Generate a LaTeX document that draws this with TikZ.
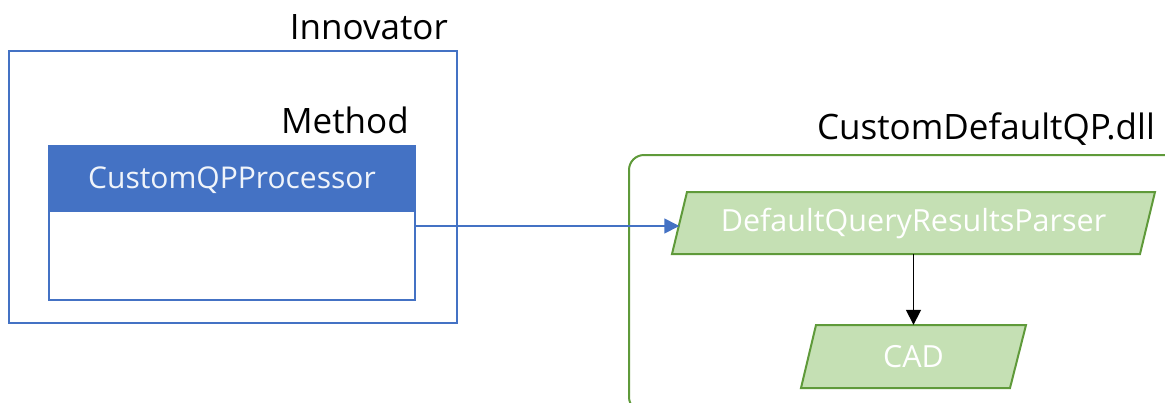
\documentclass[tikz,border=0pt]{standalone}
\usepackage{fontspec}
\setmainfont{Open Sans}
\usetikzlibrary{arrows.meta,calc}
\definecolor{ublue}{HTML}{4472C4}
\definecolor{ugreen}{HTML}{5F9A3A}
\definecolor{ufill}{HTML}{C5E0B4}
\tikzset{
  lbl/.style={font=\fontsize{35}{38}\selectfont, text=black, inner sep=0pt},
  bluebox/.style={draw=ublue, line width=2pt, inner sep=0pt},
  hdr/.style={draw=ublue, fill=ublue, line width=2pt, inner sep=0pt},
  para/.style={inner sep=0pt, text=white, font=\fontsize{30.5}{33}\selectfont},
  paradraw/.style={draw=ugreen, fill=ufill, line width=2pt, line join=miter},
  conn/.style={line width=1.7pt},
}
\begin{document}
\begin{tikzpicture}[x=1pt,y=-1pt]
\clip (0,0) rectangle (1165,402);
\useasboundingbox (0,0) rectangle (1165,402);
% Innovator
\node[bluebox, minimum width=448pt, minimum height=272pt] (innov) at (233,187) {};
\node[lbl, anchor=base east] (innovlbl) at (448,39) {Innovator};
\node[lbl, anchor=base east] (methodlbl) at (409,133) {Method};
\node[hdr, minimum width=366pt, minimum height=65pt] (cqp) at (232,178.5) {};
\node[bluebox, minimum width=366pt, minimum height=89pt] (cqpbody) at (232,255.5) {};
\node[inner sep=0pt, text=white!92!ublue, font=\fontsize{30}{33}\selectfont] (cqptext) at (232,180) {CustomQPProcessor};
% dll container
\node[draw=ugreen, line width=2pt, rounded corners=15pt, minimum width=551pt, minimum height=257pt, inner sep=0pt] (dll) at (904.5,283.5) {};
\node[lbl, anchor=base east] (dlllbl) at (1155,139) {CustomDefaultQP.dll};
% parallelograms
\path[paradraw] (672,254) -- (687,192) -- (1155,192) -- (1140,254) -- cycle;
\node[para, minimum width=468pt, minimum height=62pt] (dq) at (913.5,223) {DefaultQueryResultsParser};
\path[paradraw] (801,388) -- (816,325) -- (1026,325) -- (1010,388) -- cycle;
\node[para, minimum width=210pt, minimum height=63pt] (cad) at (913.5,356.5) {CAD};
% connectors
\draw[conn, color=ublue, line width=1.4pt, -{Triangle[length=15pt,width=15pt]}] (cqpbody.east |- 0,226) -- (dq.west |- 0,226);
\draw[conn, black, -{Triangle[length=15pt,width=15pt]}] (dq.south) -- (cad.north);
\end{tikzpicture}
\end{document}
